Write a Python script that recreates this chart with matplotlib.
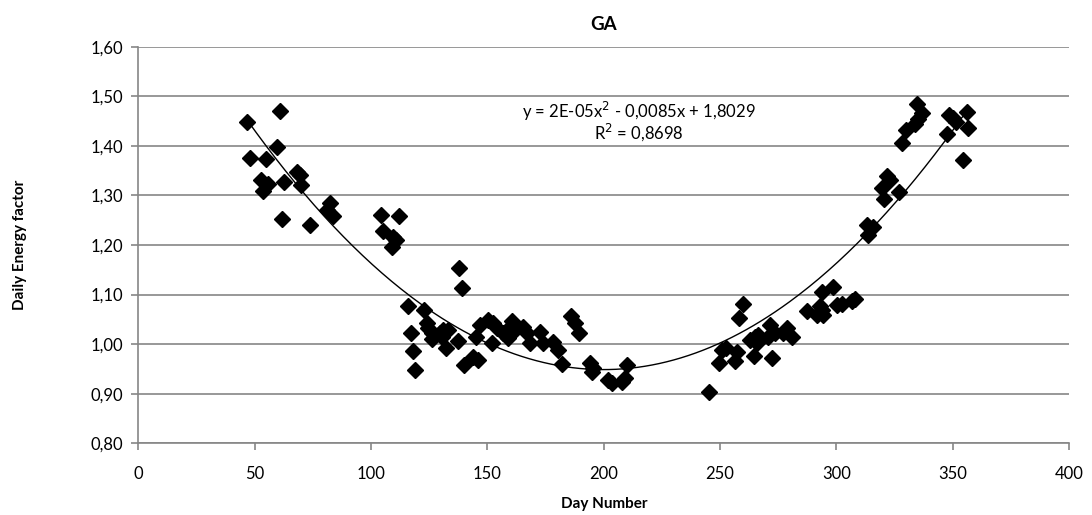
# GA - daily energy factor vs day number, with 2nd order trendline

import numpy as np
import matplotlib.pyplot as plt

plt.rcParams['font.family'] = ['Lato', 'DejaVu Sans']

day = [46.5, 60.8, 47.9, 54.8, 59.7, 52.5, 55.8, 53.6, 62.5, 68.0, 69.4, 69.9, 61.6, 73.7,
       82.3, 80.9, 83.7,
       104.1, 112.0, 105.0, 109.5, 110.7, 108.8, 137.9, 138.9, 116.0, 122.8, 117.0, 117.9, 118.8,
       123.9, 124.6, 126.0, 126.0, 129.6, 131.0, 133.2, 130.3, 132.0, 137.2, 140.0, 143.9, 146.0,
       144.9, 147.0, 150.4, 152.5, 154.0, 152.0, 156.8, 158.9, 158.3, 160.4, 161.8, 165.1, 166.9,
       168.3, 172.6, 174.0, 178.3, 180.4, 182.2, 185.8, 187.6, 189.3, 194.1, 195.5, 194.8, 201.9,
       203.4, 207.7, 209.8, 209.1,
       245.3, 249.4, 250.7, 252.5, 256.4, 257.4, 258.2, 259.7, 264.6, 262.8, 265.0, 266.4, 265.7,
       270.7, 271.4, 273.6, 272.4, 278.6, 280.8, 277.2, 287.2, 291.5, 293.7, 294.3, 292.9, 293.7,
       298.7, 300.1, 302.3, 306.5, 308.0,
       313.7, 313.0, 315.8, 320.6, 319.4, 321.6, 323.0, 326.9, 328.3, 329.8, 333.8, 335.2, 336.6,
       334.7, 347.6, 348.5, 350.2, 351.4, 356.0, 356.7, 354.5]
factor = [1.448, 1.470, 1.376, 1.373, 1.398, 1.331, 1.324, 1.308, 1.328, 1.348, 1.341, 1.321, 1.252, 1.240,
          1.285, 1.271, 1.259,
          1.260, 1.259, 1.229, 1.217, 1.210, 1.195, 1.153, 1.113, 1.077, 1.069, 1.022, 0.986, 0.948,
          1.042, 1.032, 1.022, 1.010, 1.022, 1.029, 1.029, 1.015, 0.993, 1.006, 0.958, 0.975, 0.968,
          1.015, 1.039, 1.049, 1.042, 1.032, 1.002, 1.022, 1.012, 1.029, 1.047, 1.029, 1.035, 1.022,
          1.002, 1.025, 1.002, 1.005, 0.988, 0.960, 1.057, 1.042, 1.023, 0.961, 0.951, 0.944, 0.928,
          0.921, 0.924, 0.958, 0.931,
          0.904, 0.963, 0.988, 0.992, 0.967, 0.985, 1.053, 1.081, 0.977, 1.008, 1.015, 1.019, 1.002,
          1.015, 1.039, 1.022, 0.973, 1.032, 1.015, 1.023, 1.067, 1.058, 1.069, 1.058, 1.076, 1.105,
          1.116, 1.079, 1.082, 1.087, 1.091,
          1.220, 1.240, 1.237, 1.292, 1.316, 1.339, 1.331, 1.306, 1.405, 1.431, 1.445, 1.455, 1.466,
          1.484, 1.423, 1.462, 1.456, 1.449, 1.469, 1.437, 1.371]

y_ticks = [0.8, 0.9, 1.0, 1.1, 1.2, 1.3, 1.4, 1.5, 1.6]
x_ticks = [0, 50, 100, 150, 200, 250, 300, 350, 400]

gray = '#868686'

fig = plt.figure(figsize=(10.92, 5.15), dpi=100)
ax = fig.add_axes([0.1268, 0.1392, 0.979 - 0.1268, 0.9093 - 0.1392])

ax.plot(day, factor, 'D', color='black', markersize=7.8, zorder=3)

# polynomial trendline (order 2)
coef = np.polyfit(day, factor, 2)
xs = np.linspace(min(day), max(day), 300)
ax.plot(xs, np.polyval(coef, xs), color='black', lw=1, zorder=2)

ax.set_xlim(0, 400)
ax.set_ylim(0.8, 1.6)
ax.set_xticks(x_ticks)
ax.set_yticks(y_ticks)
ax.set_yticklabels([f'{v:.2f}'.replace('.', ',') for v in y_ticks])
ax.grid(axis='y', color=gray, lw=1.2)
ax.set_axisbelow(True)
for s in ['top', 'right']:
    ax.spines[s].set_visible(False)
for s in ['left', 'bottom']:
    ax.spines[s].set_color(gray)
    ax.spines[s].set_linewidth(1.2)
ax.tick_params(colors=gray, labelcolor='black', length=5, width=1.2, labelsize=12)
ax.tick_params(axis='x', pad=11)
ax.tick_params(axis='y', pad=6)

ax.set_xlabel('Day Number', fontsize=11, fontweight='bold', labelpad=11)
ax.set_ylabel('Daily Energy factor', fontsize=11, fontweight='bold', labelpad=46)
ax.set_title('GA', fontsize=13.5, fontweight='bold', pad=12)

ax.text(215, 1.47, 'y = 2E-05x$^2$ - 0,0085x + 1,8029', ha='center', va='center', fontsize=12)
ax.text(215, 1.427, 'R$^2$ = 0,8698', ha='center', va='center', fontsize=12)

fig.savefig('out.png')
